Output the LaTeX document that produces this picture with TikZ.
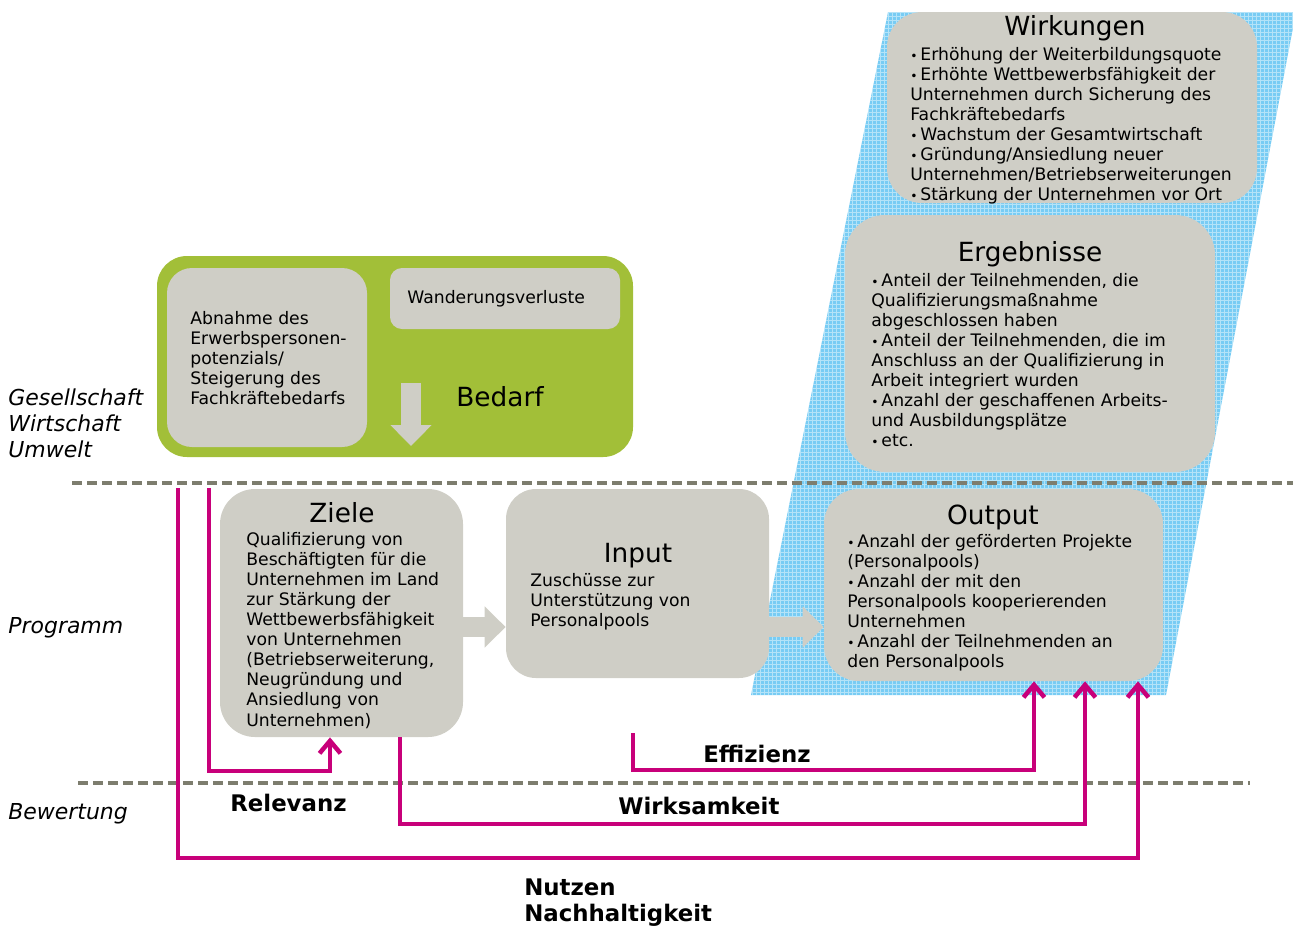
\documentclass[tikz,border=0pt]{standalone}
\usepackage{fontspec}
\setmainfont{DejaVu Sans}
\usepackage{tikz}
\usetikzlibrary{arrows.meta,fit}
\definecolor{boxgrau}{RGB}{207,206,198}
\definecolor{gruen}{RGB}{162,191,56}
\definecolor{pink}{RGB}{200,0,122}
\definecolor{strichgrau}{RGB}{125,125,110}
\definecolor{hblau}{RGB}{120,204,244}
\newcommand{\pkt}{{\scriptsize\textbullet}\,}
\tikzset{
  kasten/.style={fill=boxgrau, inner sep=0pt},
  titel/.style={font=\fontsize{15}{18}\selectfont, inner sep=0pt},
  txt/.style={font=\fontsize{9.8}{11.42}\selectfont, align=left, inner sep=0pt, anchor=north west},
  seite/.style={font=\fontsize{12.5}{14.7}\selectfont\itshape, align=left, inner sep=0pt, anchor=west},
  wert/.style={font=\fontsize{13}{14.7}\selectfont\bfseries, align=left, inner sep=0pt, anchor=west},
  trenn/.style={strichgrau, line width=0.08cm, dash pattern=on 0.2cm off 0.1cm},
  pfeil/.style={pink, line width=0.09cm, -{Straight Barb[length=0.25cm,width=0.42cm]}},
  block/.style={boxgrau, line width=0.4cm, -{Triangle[length=0.42cm,width=0.8cm]}},
}

\begin{document}
\begin{tikzpicture}[x=0.02cm, y=-0.02cm]
    \useasboundingbox (0,0) rectangle (1293,927);
    %%Hintergrund blau
    \fill[hblau] (888,12) -- (1296,12) -- (1166,695) -- (751,695) -- cycle;
    \begin{scope}
        \clip (888,12) -- (1296,12) -- (1166,695) -- (751,695) -- cycle;
        \draw[white, opacity=0.45, line width=0.3pt, step=0.08cm] (740,0) grid (1300,700);
    \end{scope}
    %%Trennlinien
    \draw[trenn] (72,483) -- (1293,483);
    \draw[trenn] (78,783) -- (1250,783);
    %%Ebenen
    \node[seite] (ges) at (8,423) {Gesellschaft\\Wirtschaft\\Umwelt};
    \node[seite] (prog) at (8,628) {Programm};
    \node[seite] (bew) at (8,814) {Bewertung};
    %%Bedarf
    \node[fill=gruen, rounded corners=0.6cm, inner sep=0pt, fit={(157,256) (633,457)}] (bedarfbox) {};
    \node[kasten, rounded corners=0.5cm, fit={(167,268) (367,447)}] (abnahme) {};
    \node[kasten, rounded corners=0.24cm, fit={(390,268) (620,329)}] (wanderung) {};
    \node[txt] (abnahmetxt) at (190,311) {Abnahme des\\Erwerbspersonen-\\potenzials/\\Steigerung des\\Fachkräftebedarfs};
    \node[txt, anchor=west] (wanderungtxt) at (407,299) {Wanderungsverluste};
    \node[titel] (bedarf) at (500,397) {Bedarf};
    \draw[block] (411,383) -- (411,446);
    %%Wirkungen
    \node[kasten, rounded corners=0.7cm, fit={(887,12) (1257,203)}] (wirkungen) {};
    \node[titel] (wirkungentit) at (1075,28) {Wirkungen};
    \node[txt] (wirkungentxt) at (910,47) {\pkt Erhöhung der Weiterbildungsquote\\\pkt Erhöhte Wettbewerbsfähigkeit der\\Unternehmen durch Sicherung des\\Fachkräftebedarfs\\\pkt Wachstum der Gesamtwirtschaft\\\pkt Gründung/Ansiedlung neuer\\Unternehmen/Betriebserweiterungen\\\pkt Stärkung der Unternehmen vor Ort};
    %%Ergebnisse
    \node[kasten, rounded corners=0.8cm, fit={(845,215) (1215,472)}] (ergebnisse) {};
    \node[titel] (ergebnissetit) at (1030,254) {Ergebnisse};
    \node[txt] (ergebnissetxt) at (871,273) {\pkt Anteil der Teilnehmenden, die\\Qualifizierungsmaßnahme\\abgeschlossen haben\\\pkt Anteil der Teilnehmenden, die im\\Anschluss an der Qualifizierung in\\Arbeit integriert wurden\\\pkt Anzahl der geschaffenen Arbeits-\\und Ausbildungsplätze\\\pkt etc.};
    %%Ziele, Input, Output
    \node[kasten, rounded corners=0.7cm, fit={(220,489) (463,737)}] (ziele) {};
    \node[titel] (zieletit) at (342,513) {Ziele};
    \node[txt] (zieletxt) at (246,532) {Qualifizierung von\\Beschäftigten für die\\Unternehmen im Land\\zur Stärkung der\\Wettbewerbsfähigkeit\\von Unternehmen\\(Betriebserweiterung,\\Neugründung und\\Ansiedlung von\\Unternehmen)};
    \node[kasten, rounded corners=0.6cm, fit={(506,489) (769,678)}] (input) {};
    \node[titel] (inputtit) at (638,556) {Input};
    \node[txt] (inputtxt) at (530,573) {Zuschüsse zur\\Unterstützung von\\Personalpools};
    \node[kasten, rounded corners=0.7cm, fit={(824,489) (1163,681)}] (output) {};
    \node[titel] (outputtit) at (993,517) {Output};
    \node[txt] (outputtxt) at (847,534) {\pkt Anzahl der geförderten Projekte\\(Personalpools)\\\pkt Anzahl der mit den\\Personalpools kooperierenden\\Unternehmen\\\pkt Anzahl der Teilnehmenden an\\den Personalpools};
    \draw[block] (ziele.east |- 0,627) -- (input.west |- 0,627);
    \draw[block] (input.east |- 0,627) -- (output.west |- 0,627);
    %%Bewertung
    \coordinate (nutzS) at (178,488);
    \coordinate (relS) at (209,488);
    \coordinate (relK) at (330,771);
    \coordinate (effS) at (633,733);
    \coordinate (effK) at (1034,770);
    \coordinate (wirkK) at (1085,824);
    \coordinate (nutzK) at (1138,858);
    \draw[pfeil] (relS) |- (relK) -- (relK |- ziele.south);
    \draw[pfeil] (nutzS) |- (nutzK) -- (nutzK |- output.south);
    \draw[pfeil] (ziele.south -| 400,0) |- (wirkK) -- (wirkK |- output.south);
    \draw[pfeil] (effS) |- (effK) -- (effK |- output.south);
    \node[wert] (relevanz) at (230,803) {Relevanz};
    \node[wert] (effizienz) at (703,754) {Effizienz};
    \node[wert] (wirksam) at (618,806) {Wirksamkeit};
    \node[wert] (nutzen) at (524,903) {Nutzen\\Nachhaltigkeit};
\end{tikzpicture}
\end{document}
